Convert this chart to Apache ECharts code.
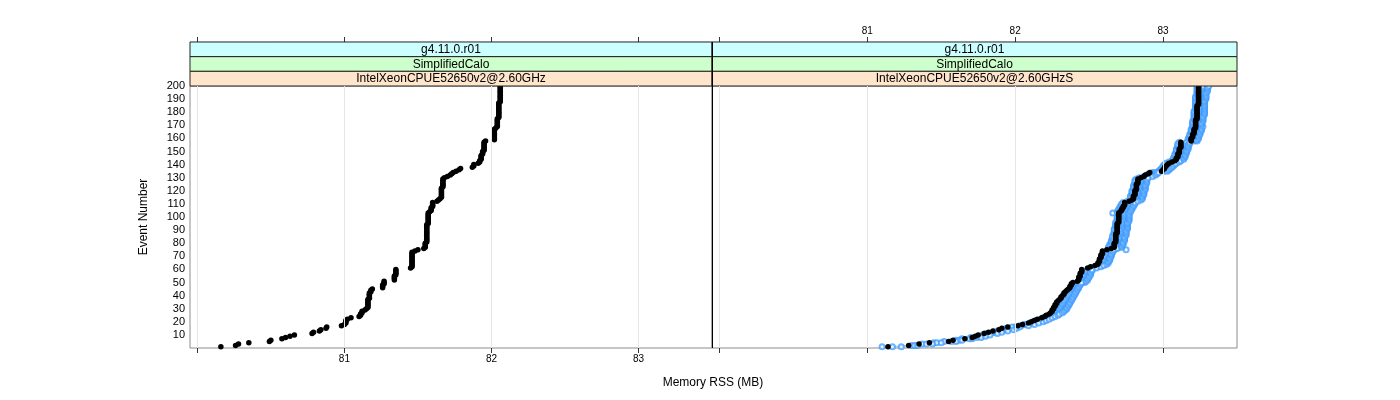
<!DOCTYPE html>
<html><head><meta charset="utf-8">
<script src="https://cdn.jsdelivr.net/npm/echarts@6/dist/echarts.min.js"></script>
<style>html,body{margin:0;padding:0;background:#fff}#c{width:1400px;height:400px}</style>
</head><body><div id="c"></div><script>
// ---------- data ----------
const xTicks = [80, 81, 82, 83];
const xTickLabels = [81, 82, 83];
const stripTop = 'g4.11.0.r01';
const stripMid = 'SimplifiedCalo';
const panelNames = ['IntelXeonCPUE52650v2@2.60GHz', 'IntelXeonCPUE52650v2@2.60GHzS'];
const xTitle = 'Memory RSS (MB)';
const yTitle = 'Event Number';

// Memory RSS per event (event number = position + 1)
const leftBlack = [
 80.16,80.26,80.28,80.35,80.49,80.50,80.575,80.60,80.63,80.66,
 80.78,80.79,80.83,80.84,80.875,80.88,80.98,81.00,81.01,81.01,
 81.01,81.02,81.045,81.10,81.11,81.11,81.12,81.12,81.14,81.15,
 81.16,81.16,81.16,81.16,81.16,81.16,81.16,81.17,81.17,81.17,
 81.17,81.17,81.18,81.18,81.19,81.26,81.26,81.26,81.27,81.27,
 81.27,81.34,81.34,81.34,81.34,81.35,81.35,81.35,81.35,81.35,
 81.45,81.46,81.46,81.46,81.46,81.46,81.46,81.46,81.46,81.46,
 81.46,81.46,81.46,81.48,81.50,81.54,81.55,81.55,81.55,81.55,
 81.56,81.56,81.56,81.56,81.56,81.56,81.56,81.56,81.56,81.56,
 81.56,81.56,81.56,81.56,81.57,81.57,81.57,81.57,81.57,81.57,
 81.57,81.57,81.57,81.58,81.59,81.59,81.59,81.60,81.60,81.60,
 81.60,81.63,81.64,81.65,81.66,81.66,81.66,81.66,81.66,81.66,
 81.66,81.66,81.67,81.67,81.67,81.67,81.67,81.67,81.67,81.68,
 81.70,81.72,81.73,81.74,81.76,81.78,81.79,81.87,81.88,81.88,
 81.91,81.92,81.92,81.93,81.93,81.93,81.93,81.94,81.94,81.94,
 81.95,81.95,81.95,81.95,81.95,81.95,81.95,81.96,82.02,82.02,
 82.02,82.02,82.02,82.02,82.02,82.02,82.02,82.03,82.04,82.04,
 82.04,82.04,82.04,82.04,82.04,82.05,82.05,82.05,82.05,82.05,
 82.05,82.05,82.05,82.05,82.05,82.05,82.05,82.06,82.06,82.06,
 82.06,82.06,82.06,82.06,82.06,82.06,82.06,82.06,82.06,82.06
];
const rightBlack = [
 81.14,81.28,81.35,81.42,81.55,81.58,81.66,81.71,81.73,81.75,
 81.79,81.82,81.85,81.89,81.91,81.95,82.02,82.05,82.09,82.11,
 82.13,82.15,82.18,82.20,82.21,82.23,82.24,82.25,82.25,82.26,
 82.26,82.27,82.27,82.28,82.28,82.29,82.30,82.31,82.31,82.32,
 82.33,82.33,82.34,82.35,82.36,82.37,82.37,82.38,82.38,82.39,
 82.42,82.43,82.43,82.43,82.44,82.44,82.44,82.45,82.45,82.45,
 82.49,82.51,82.54,82.56,82.56,82.57,82.57,82.57,82.58,82.58,
 82.58,82.59,82.59,82.59,82.62,82.65,82.67,82.67,82.67,82.67,
 82.68,82.68,82.68,82.68,82.68,82.68,82.68,82.69,82.69,82.69,
 82.69,82.69,82.69,82.69,82.69,82.70,82.70,82.70,82.70,82.70,
 82.70,82.70,82.70,82.71,82.72,82.72,82.73,82.73,82.74,82.74,
 82.74,82.77,82.79,82.80,82.80,82.80,82.81,82.81,82.81,82.81,
 82.82,82.82,82.82,82.82,82.82,82.83,82.83,82.83,82.83,82.85,
 82.87,82.88,82.90,82.91,82.99,83.00,83.01,83.01,83.02,83.03,
 83.04,83.06,83.08,83.09,83.09,83.10,83.10,83.10,83.11,83.11,
 83.11,83.11,83.12,83.12,83.12,83.12,83.12,83.19,83.19,83.19,
 83.20,83.20,83.20,83.21,83.21,83.21,83.21,83.22,83.22,83.22,
 83.22,83.22,83.22,83.22,83.23,83.23,83.23,83.23,83.23,83.23,
 83.23,83.23,83.23,83.23,83.23,83.24,83.24,83.24,83.24,83.24,
 83.24,83.24,83.24,83.24,83.24,83.24,83.24,83.24,83.24,83.24
];
const rightBlue1 = [
 81.23,81.32,81.40,81.47,81.57,81.62,81.69,81.74,81.76,81.78,
 81.80,81.85,81.88,81.92,81.94,81.98,82.04,82.07,82.11,82.14,
 82.16,82.18,82.21,82.23,82.25,82.27,82.28,82.29,82.30,82.30,
 82.31,82.31,82.32,82.32,82.33,82.33,82.34,82.35,82.36,82.36,
 82.37,82.38,82.39,82.40,82.40,82.41,82.41,82.42,82.42,82.43,
 82.45,82.46,82.46,82.47,82.47,82.47,82.48,82.48,82.48,82.49,
 82.52,82.54,82.57,82.59,82.59,82.60,82.60,82.60,82.61,82.61,
 82.61,82.62,82.62,82.62,82.64,82.67,82.70,82.70,82.70,82.71,
 82.71,82.71,82.71,82.71,82.71,82.72,82.72,82.72,82.72,82.72,
 82.72,82.73,82.73,82.73,82.73,82.73,82.73,82.73,82.74,82.74,
 82.74,82.74,82.74,82.75,82.76,82.76,82.77,82.77,82.77,82.78,
 82.78,82.80,82.82,82.83,82.83,82.83,82.84,82.84,82.84,82.85,
 82.85,82.85,82.85,82.86,82.86,82.86,82.86,82.86,82.87,82.88,
 82.90,82.92,82.93,82.95,83.01,83.02,83.03,83.04,83.05,83.06,
 83.07,83.09,83.10,83.12,83.12,83.13,83.13,83.13,83.14,83.14,
 83.14,83.14,83.15,83.15,83.15,83.15,83.16,83.21,83.21,83.22,
 83.22,83.22,83.23,83.23,83.23,83.24,83.24,83.24,83.25,83.25,
 83.25,83.25,83.25,83.25,83.25,83.26,83.26,83.26,83.26,83.26,
 83.26,83.26,83.26,83.26,83.27,83.27,83.27,83.27,83.27,83.27,
 83.27,83.27,83.27,83.27,83.27,83.27,83.27,83.27,83.27,83.27
];
const rightBlue2 = [
 81.10,81.30,81.37,81.45,81.52,81.60,81.64,81.70,81.77,81.80,
 81.83,81.86,81.90,81.93,81.96,82.00,82.03,82.06,82.10,82.12,
 82.14,82.17,82.19,82.22,82.24,82.26,82.28,82.29,82.31,82.32,
 82.33,82.34,82.35,82.36,82.36,82.37,82.37,82.38,82.38,82.39,
 82.39,82.40,82.40,82.40,82.41,82.41,82.42,82.42,82.43,82.47,
 82.47,82.47,82.48,82.48,82.49,82.49,82.50,82.50,82.50,82.51,
 82.53,82.56,82.58,82.61,82.62,82.62,82.63,82.63,82.63,82.64,
 82.64,82.64,82.65,82.65,82.75,82.68,82.63,82.64,82.64,82.65,
 82.65,82.65,82.66,82.66,82.66,82.66,82.67,82.67,82.67,82.67,
 82.67,82.68,82.68,82.68,82.68,82.68,82.69,82.69,82.69,82.69,
 82.70,82.70,82.66,82.69,82.70,82.70,82.71,82.71,82.72,82.72,
 82.73,82.76,82.78,82.80,82.78,82.78,82.79,82.79,82.79,82.79,
 82.80,82.80,82.80,82.80,82.81,82.81,82.81,82.81,82.82,82.84,
 82.87,82.89,82.91,82.93,82.97,82.98,82.99,83.00,83.00,83.01,
 83.02,83.04,83.06,83.07,83.07,83.08,83.08,83.08,83.09,83.09,
 83.09,83.09,83.10,83.10,83.10,83.10,83.11,83.17,83.17,83.17,
 83.18,83.18,83.18,83.19,83.19,83.19,83.19,83.20,83.20,83.20,
 83.20,83.20,83.20,83.21,83.21,83.21,83.21,83.21,83.21,83.21,
 83.21,83.22,83.22,83.22,83.22,83.22,83.22,83.22,83.22,83.22,
 83.22,83.22,83.23,83.23,83.23,83.23,83.23,83.23,83.23,83.23
];
const rightBlue3 = [
 81.17,81.34,81.44,81.50,81.60,81.64,81.71,81.77,81.80,81.83,
 81.88,81.91,81.95,81.99,82.01,82.03,82.09,82.13,82.16,82.19,
 82.21,82.23,82.25,82.27,82.29,82.30,82.32,82.33,82.34,82.35,
 82.35,82.36,82.36,82.37,82.37,82.38,82.38,82.39,82.39,82.40,
 82.40,82.41,82.41,82.42,82.42,82.43,82.43,82.44,82.44,82.45,
 82.48,82.49,82.49,82.50,82.50,82.51,82.51,82.51,82.52,82.52,
 82.55,82.58,82.60,82.62,82.63,82.63,82.64,82.64,82.64,82.65,
 82.65,82.65,82.66,82.66,82.67,82.69,82.72,82.72,82.73,82.73,
 82.73,82.74,82.74,82.74,82.74,82.75,82.75,82.75,82.75,82.75,
 82.76,82.76,82.76,82.76,82.76,82.76,82.77,82.77,82.77,82.77,
 82.77,82.77,82.77,82.78,82.78,82.79,82.79,82.80,82.80,82.81,
 82.81,82.83,82.85,82.86,82.86,82.86,82.87,82.87,82.87,82.87,
 82.88,82.88,82.88,82.88,82.88,82.89,82.89,82.89,82.89,82.90,
 82.93,82.95,82.96,82.97,83.03,83.04,83.05,83.06,83.07,83.08,
 83.09,83.11,83.12,83.14,83.14,83.15,83.15,83.15,83.16,83.16,
 83.16,83.17,83.17,83.17,83.17,83.18,83.18,83.23,83.23,83.24,
 83.24,83.24,83.25,83.25,83.25,83.26,83.26,83.26,83.27,83.26,
 83.26,83.26,83.27,83.27,83.27,83.27,83.27,83.28,83.28,83.28,
 83.28,83.28,83.28,83.28,83.28,83.28,83.28,83.28,83.28,83.29,
 83.29,83.29,83.29,83.29,83.29,83.30,83.30,83.30,83.30,83.31
];

// ---------- layout ----------
const FONT = '"Liberation Sans", Arial, Helvetica, sans-serif';
const X_MIN = 79.95, X_MAX = 83.5;
const panels = [
  {left: 190, top: 86, width: 522, height: 262},
  {left: 712, top: 86, width: 525, height: 262}
];
const STRIP_H = 14.67;
const stripTop0 = panels[0].top - 3 * STRIP_H;
const stripColors = ['#ccffff', '#ccffcc', '#ffe5cc'];
const BLUE = '#3d9bff';

const toPts = arr => arr.map((v, i) => [v, i + 1]);

function xAxisDef(grid, pos, showLabels) {
  return {
    type: 'value', gridIndex: grid, position: pos, min: X_MIN, max: X_MAX,
    offset: pos === 'top' ? 3 * STRIP_H : 0,
    axisLine: {show: false},
    axisTick: {show: true, customValues: xTicks, length: 5, inside: false,
               lineStyle: {color: '#333', width: 1}},
    axisLabel: {show: showLabels, customValues: xTickLabels, fontSize: 10,
                color: '#000', fontFamily: FONT, margin: 6},
    splitLine: {show: false}
  };
}

const gridLines = {
  silent: true, symbol: ['none', 'none'], label: {show: false},
  lineStyle: {color: '#e6e6e6', type: 'solid', width: 1},
  emphasis: {disabled: true},
  data: xTicks.map(v => ({xAxis: v}))
};

const graphics = [];
panels.forEach((p, pi) => {
  const texts = [stripTop, stripMid, panelNames[pi]];
  texts.forEach((t, k) => {
    const y = stripTop0 + k * STRIP_H;
    graphics.push({type: 'rect', silent: true, z: 5,
      shape: {x: p.left, y: y, width: p.width, height: STRIP_H},
      style: {fill: stripColors[k], stroke: '#222', lineWidth: 1}});
    graphics.push({type: 'text', silent: true, z: 6,
      style: {text: t, x: p.left + p.width / 2, y: y + STRIP_H / 2 + 0.5,
              align: 'center', verticalAlign: 'middle',
              fontSize: 12, fontFamily: FONT, fill: '#000'}});
  });
});
graphics.push({type: 'line', silent: true, z: 7,
  shape: {x1: 712.5, y1: stripTop0, x2: 712.5, y2: panels[0].top + panels[0].height},
  style: {stroke: '#000', lineWidth: 1}});
graphics.push({type: 'text', silent: true,
  style: {text: xTitle, x: 713, y: 383, align: 'center', verticalAlign: 'middle',
          fontSize: 12, fontFamily: FONT, fill: '#000'}});

// blue runs: thin connecting line + open circles
const blueRuns = [rightBlue2, rightBlue1, rightBlue3];
const blueSeriesList = [];
blueRuns.forEach(arr => {
  blueSeriesList.push({
    type: 'line', xAxisIndex: 2, yAxisIndex: 1, data: toPts(arr),
    symbol: 'none', showSymbol: false, smooth: false,
    lineStyle: {color: BLUE, width: 0.5, opacity: 0.7}, itemStyle: {color: BLUE},
    z: 2
  });
  blueSeriesList.push({
    type: 'scatter', xAxisIndex: 2, yAxisIndex: 1, data: toPts(arr),
    symbol: 'emptyCircle', symbolSize: 5,
    itemStyle: {color: BLUE, borderColor: BLUE, borderWidth: 0.8, opacity: 0.75},
    z: 2
  });
});

const option = {
  animation: false,
  backgroundColor: '#fff',
  textStyle: {fontFamily: FONT},
  grid: panels.map(p => ({left: p.left, top: p.top, width: p.width, height: p.height,
    show: true, borderColor: '#8c8c8c', borderWidth: 1, backgroundColor: 'transparent'})),
  xAxis: [
    xAxisDef(0, 'bottom', true),
    xAxisDef(0, 'top', false),
    xAxisDef(1, 'bottom', false),
    xAxisDef(1, 'top', true)
  ],
  yAxis: [
    {type: 'value', gridIndex: 0, min: 0, max: 200, interval: 10,
     axisLine: {show: false}, axisTick: {show: false}, splitLine: {show: false},
     axisLabel: {fontSize: 11, color: '#000', fontFamily: FONT, margin: 5,
                 formatter: v => (v === 0 ? '' : String(v))},
     name: yTitle, nameLocation: 'middle', nameGap: 40,
     nameTextStyle: {fontSize: 12, color: '#000', fontFamily: FONT}},
    {type: 'value', gridIndex: 1, min: 0, max: 200, interval: 10,
     axisLine: {show: false}, axisTick: {show: false}, splitLine: {show: false},
     axisLabel: {show: false}}
  ],
  graphic: graphics,
  series: [
    {type: 'scatter', xAxisIndex: 0, yAxisIndex: 0, data: [], markLine: gridLines, z: 1},
    {type: 'scatter', xAxisIndex: 2, yAxisIndex: 1, data: [], markLine: gridLines, z: 1},
    {type: 'scatter', xAxisIndex: 0, yAxisIndex: 0, data: toPts(leftBlack),
     symbol: 'circle', symbolSize: 5.5, itemStyle: {color: '#000', opacity: 1}, z: 3}
  ].concat(blueSeriesList, [
    {type: 'scatter', xAxisIndex: 2, yAxisIndex: 1, data: toPts(rightBlack),
     symbol: 'circle', symbolSize: 5.5, itemStyle: {color: '#000', opacity: 1}, z: 4}
  ])
};
echarts.init(document.getElementById('c'), null, {renderer: 'canvas'}).setOption(option);
</script></body></html>
